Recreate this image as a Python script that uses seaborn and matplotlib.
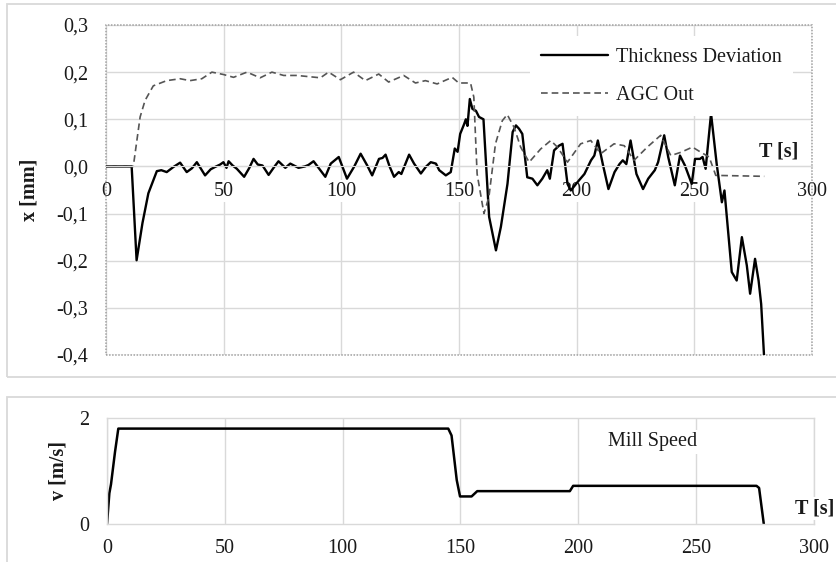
# Strip thickness / AGC / mill speed, two stacked Excel-style panels
import numpy as np
import pandas as pd
import matplotlib
matplotlib.use('Agg')
import matplotlib.pyplot as plt
from matplotlib.patches import Rectangle
from matplotlib.ticker import FuncFormatter
import seaborn as sns

sns.set_style('white')
plt.rcParams['font.family'] = ['Liberation Serif', 'DejaVu Serif']
plt.rcParams['font.size'] = 14.5
plt.rcParams['axes.unicode_minus'] = False

# thickness deviation [mm] vs time [s]
thick_t = [0, 10.9, 13, 15.5, 18, 21.6, 23.5, 25.8, 28.7, 31.5, 34.3, 36.5, 38.6, 42.1, 44.5,
           46.4, 48.5, 49.9, 51.2, 52.1, 53.8, 55.6, 58.7, 60.8, 62.7, 64.5, 66.5, 69.1, 71.2,
           73.3, 76.2, 78.3, 81.8, 84.5, 86, 88.2, 90.3, 93.2, 95.5, 98.9, 102.4, 105.5, 108.2,
           111, 113.1, 116, 117.5, 118.8, 120.5, 122.4, 124.4, 125.5, 128.8, 130.9, 133.8, 135.9,
           138, 140.2, 141.6, 144.4, 146.5, 148.2, 149.4, 150.5, 152.2, 152.9, 153.6, 154.6,
           155.7, 157.2, 158.5, 160.4, 162.8, 165.7, 167.8, 170.6, 172.8, 174.2, 175.5, 176.9,
           179, 181.2, 183.3, 185.4, 187.5, 188.6, 190.4, 192.5, 194, 196.1, 197.5, 200.4, 203.3,
           206.1, 207.5, 209, 211.1, 213.5, 216.1, 218.2, 219.6, 221.1, 222.9, 225.4, 228.2,
           230.4, 233.2, 234.6, 237.2, 238.9, 241.7, 243.9, 246, 248.9, 250.3, 252.4, 253.5,
           254.8, 257.1, 259.5, 261.7, 262.8, 265.9, 268, 270.2, 272.3, 273.7, 275.8, 277.3,
           278.4, 279.6]
thick_v = [0, 0, -0.199, -0.12, -0.057, -0.01, -0.008, -0.012, -0.001, 0.008, -0.012, -0.004,
           0.009, -0.019, -0.006, -0.001, 0.004, 0.009, -0.003, 0.011, 0.002, -0.005, -0.022,
           -0.004, 0.016, 0.004, 0.002, -0.018, -0.003, 0.011, -0.003, 0.006, -0.003, 0.0, 0.003,
           0.011, -0.003, -0.022, 0.006, 0.02, -0.026, 0.0, 0.027, 0.002, -0.019, 0.016, 0.018,
           0.025, 0.0, -0.022, -0.012, -0.016, 0.025, 0.006, -0.015, -0.001, 0.009, 0.006,
           -0.008, -0.019, -0.012, 0.038, 0.031, 0.069, 0.09, 0.1, 0.086, 0.143, 0.122, 0.118,
           0.105, 0.1, -0.107, -0.178, -0.128, -0.037, 0.073, 0.087, 0.08, 0.069, -0.023, -0.026,
           -0.04, -0.026, -0.008, -0.026, 0.034, 0.044, 0.048, -0.037, -0.051, -0.033, -0.016,
           0.013, 0.023, 0.055, 0.005, -0.048, -0.012, 0.005, 0.013, 0.005, 0.055, -0.016,
           -0.048, -0.026, -0.008, 0.009, 0.066, 0.02, -0.04, 0.023, 0.002, -0.037, 0.016,
           0.016, 0.02, -0.005, 0.112, 0.005, -0.076, -0.051, -0.224, -0.242, -0.15, -0.21,
           -0.27, -0.196, -0.242, -0.292, -0.4]

# AGC output
agc_t = [0, 11.6, 14.5, 16.6, 20.1, 25.8, 31.5, 35.7, 40.7, 45, 49.9, 54.2, 59.9, 65.5, 70.5,
         75.5, 81.1, 91.1, 94.6, 99.6, 105.2, 110.2, 115.9, 120.1, 126.5, 131.5, 135.7, 140.7,
         147.1, 149.9, 154.9, 156.3, 157.7, 160.6, 162.7, 165.5, 168.4, 170.5, 173.4, 176.2,
         179.8, 184.7, 189, 191.8, 196.1, 201.7, 206, 210.2, 215.9, 220.2, 224.4, 230, 235.7,
         240, 244.3, 249.2, 252.8, 256.3, 259.1, 279.7]
agc_v = [0, 0, 0.105, 0.14, 0.171, 0.182, 0.186, 0.182, 0.186, 0.2, 0.195, 0.189, 0.2, 0.188,
         0.2, 0.193, 0.193, 0.188, 0.2, 0.184, 0.2, 0.182, 0.196, 0.179, 0.193, 0.177, 0.182,
         0.175, 0.189, 0.177, 0.177, 0.147, -0.016, -0.1, -0.065, 0.048, 0.097, 0.11, 0.083,
         0.041, 0.009, 0.037, 0.055, 0.041, 0.009, 0.048, 0.055, 0.027, 0.048, 0.044, 0.013,
         0.041, 0.066, 0.023, 0.03, 0.041, 0.03, 0.02, -0.019, -0.021]

# mill speed [m/s]
speed_t = [0, 1, 1.7, 3.4, 4.8, 144.8, 146.2, 148.4, 149.8, 154.7, 157.1, 196.4, 197.8, 275.6,
           276.7, 278.7]
speed_v = [0, 0.58, 0.75, 1.36, 1.8, 1.8, 1.67, 0.83, 0.52, 0.52, 0.62, 0.62, 0.72, 0.72, 0.68, 0]

x_ticks = [0, 50, 100, 150, 200, 250, 300]
top_yticks = [-0.4, -0.3, -0.2, -0.1, 0.0, 0.1, 0.2, 0.3]
bot_yticks = [0, 2]

df_thick = pd.DataFrame({'T': thick_t, 'x': thick_v})
df_agc = pd.DataFrame({'T': agc_t, 'x': agc_v})
df_speed = pd.DataFrame({'T': speed_t, 'v': speed_v})

W, H = 837, 562
grid_c = '#d9d9d9'
txt_c = '#1a1a1a'
fig = plt.figure(figsize=(W / 100, H / 100), dpi=100)

# chart-area frames
fig.add_artist(Rectangle((7 / W, 1 - 377 / H), 840 / W, 373 / H, transform=fig.transFigure,
                         fill=False, ec=grid_c, lw=1.3))
fig.add_artist(Rectangle((7 / W, 1 - 570 / H), 840 / W, 173 / H, transform=fig.transFigure,
                         fill=False, ec=grid_c, lw=1.3))

ax1 = fig.add_axes([106 / W, 1 - 355 / H, 706 / W, 330 / H])
ax2 = fig.add_axes([107 / W, 1 - 524 / H, 707 / W, 106 / H])

# --- top panel ---
sns.lineplot(data=df_thick, x='T', y='x', ax=ax1, color='black', lw=1.7, sort=False,
             estimator=None, label='Thickness Deviation')
sns.lineplot(data=df_agc, x='T', y='x', ax=ax1, color='#555555', lw=1.2, sort=False,
             estimator=None, linestyle=(0, (4, 2.4)), label='AGC Out')
ax1.set_xlim(0, 300)
ax1.set_ylim(-0.4, 0.3)
ax1.set_xticks(x_ticks)
ax1.set_yticks(top_yticks)
ax1.yaxis.set_major_formatter(FuncFormatter(lambda v, p: f'{v:.1f}'.replace('.', ',').replace('-0,0', '0,0')))
ax1.grid(True, color=grid_c, lw=1)
for s in ['top', 'right', 'left']:
    ax1.spines[s].set_visible(False)
ax1.spines['bottom'].set_position(('data', 0))
ax1.spines['bottom'].set_color(grid_c)
ax1.add_patch(Rectangle((0, 0), 1, 1, transform=ax1.transAxes, fill=False, ec='#a0a0a0',
                        ls=(0, (1, 1)), lw=1.1, zorder=1, clip_on=False))
ax1.tick_params(length=0, colors=txt_c)
ax1.tick_params(axis='x', pad=11)
ax1.tick_params(axis='y', pad=13)
for lbl in ax1.get_xticklabels():
    lbl.set_bbox(dict(facecolor='white', edgecolor='none', pad=1))
ax1.set_xlabel('')
ax1.set_ylabel('x [mm]', fontweight='bold', color=txt_c)
ax1.yaxis.set_label_coords(-0.0935, 0.5)
leg = ax1.legend(loc='center', bbox_to_anchor=(0.787, 0.845), frameon=True, fancybox=False,
                 edgecolor='none', facecolor='white', framealpha=1, handlelength=3.3,
                 handletextpad=0.4, labelspacing=0.95, borderpad=0.55)
for t in leg.get_texts():
    t.set_color(txt_c)
ax1.text(286, 0.031, 'T [s]', fontweight='bold', ha='center', va='center', color=txt_c)

# --- bottom panel ---
sns.lineplot(data=df_speed, x='T', y='v', ax=ax2, color='black', lw=1.8, sort=False,
             estimator=None)
ax2.set_xlim(0, 300)
ax2.set_ylim(0, 2)
ax2.set_xticks(x_ticks)
ax2.set_yticks(bot_yticks)
ax2.grid(True, axis='x', color=grid_c, lw=1)
for s in ax2.spines.values():
    s.set_color(grid_c)
    s.set_linewidth(1)
ax2.tick_params(length=0, colors=txt_c)
ax2.tick_params(axis='x', pad=11)
ax2.tick_params(axis='y', pad=13)
ax2.set_xlabel('')
ax2.set_ylabel('v [m/s]', fontweight='bold', color=txt_c)
ax2.yaxis.set_label_coords(-0.055, 0.5)
ax2.text(231.7, 1.55, 'Mill Speed', ha='center', va='center', color=txt_c,
         bbox=dict(facecolor='white', edgecolor='none', pad=2))
ax2.text(300.4, 0.3, 'T [s]', fontweight='bold', ha='center', va='center', color=txt_c,
         clip_on=False, bbox=dict(facecolor='white', edgecolor='none', pad=1))

fig.savefig('out.png', dpi=100)
